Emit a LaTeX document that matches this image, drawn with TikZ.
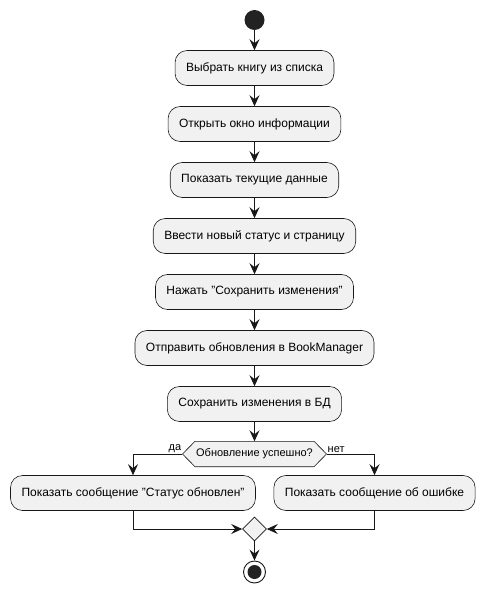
\documentclass[tikz,border=0pt]{standalone}
\usepackage{fontspec}
\setmainfont{Liberation Sans}
\usetikzlibrary{shapes.geometric,arrows.meta,backgrounds}

\definecolor{umlfill}{HTML}{F1F1F1}
\definecolor{umlline}{HTML}{181818}
\definecolor{umldot}{HTML}{222222}

\tikzset{
  action/.style={draw=umlline, fill=umlfill, line width=0.6pt, rounded corners=12pt,
    minimum height=35pt, inner xsep=11pt, font=\fontsize{12}{14}\selectfont},
  flow/.style={draw=umlline, line width=0.9pt, -{Stealth[length=11pt,width=10pt,inset=4pt]}},
  guard/.style={font=\fontsize{11}{13}\selectfont, inner sep=1pt},
}

\begin{document}
\begin{tikzpicture}[x=1pt, y=-1pt]
  \useasboundingbox (0,0) rectangle (484,593);

  % start and the chain of actions
  \node[circle, fill=umldot, minimum size=20pt, inner sep=0pt] (start) at (254.5,20) {};
  \node[action] (pick)    at (254.5,68)  {Выбрать книгу из списка};
  \node[action] (open)    at (254.5,124) {Открыть окно информации};
  \node[action] (show)    at (254.5,180) {Показать текущие данные};
  \node[action] (enter)   at (254.5,236) {Ввести новый статус и страницу};
  \node[action] (press)   at (254.5,292) {Нажать "Сохранить изменения"};
  \node[action] (send)    at (254.5,348) {Отправить обновления в BookManager};
  \node[action] (save)    at (254.5,404) {Сохранить изменения в БД};

  % the check
  \node[minimum height=25pt, inner xsep=1pt, font=\fontsize{11}{13}\selectfont] (check) at (254.5,454) {Обновление успешно?};
  \coordinate (checkL) at ([xshift=-12.5pt]check.west);
  \coordinate (checkR) at ([xshift=12.5pt]check.east);
  \begin{scope}[on background layer]
    \draw[draw=umlline, fill=umlfill, line width=0.6pt]
      (checkL) -- (check.north west) -- (check.north east) -- (checkR)
      -- (check.south east) -- (check.south west) -- cycle;
  \end{scope}

  % the two branches
  \node[action] (okmsg)  at (133,493) {Показать сообщение "Статус обновлен"};
  \node[action] (errmsg) at (374.5,493) {Показать сообщение об ошибке};

  \node[diamond, draw=umlline, fill=umlfill, line width=0.6pt, minimum size=24pt, inner sep=0pt] (merge) at (254.5,529) {};
  \node[circle, draw=umlline, fill=white, line width=0.9pt, minimum size=22pt, inner sep=0pt] (stop) at (254.5,572) {};
  \node[circle, fill=umldot, minimum size=14pt, inner sep=0pt] at (stop) {};

  % connectors
  \draw[flow] (start) -- (pick);
  \draw[flow] (pick) -- (open);
  \draw[flow] (open) -- (show);
  \draw[flow] (show) -- (enter);
  \draw[flow] (enter) -- (press);
  \draw[flow] (press) -- (send);
  \draw[flow] (send) -- (save);
  \draw[flow] (save) -- (check);

  \draw[flow] (checkL) -| (okmsg);
  \draw[flow] (checkR) -| (errmsg);
  \node[guard, anchor=south east] at (checkL) {да};
  \node[guard, anchor=south west] at (checkR) {нет};

  \draw[flow] (okmsg) |- (merge);
  \draw[flow] (errmsg) |- (merge);
  \draw[flow] (merge) -- (stop);
\end{tikzpicture}
\end{document}
